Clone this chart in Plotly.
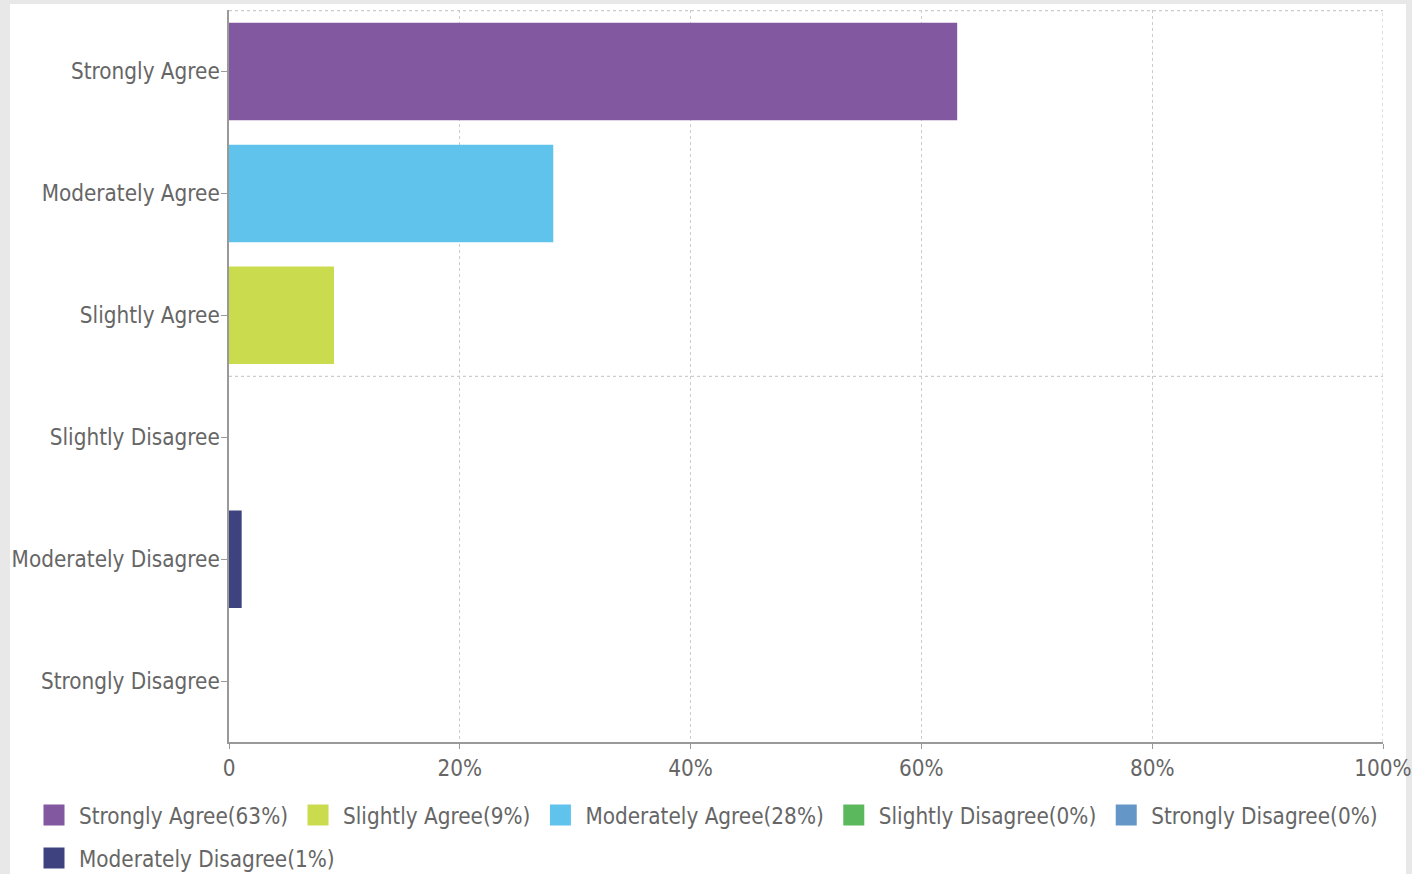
import plotly.graph_objects as go

categories = ["Strongly Agree", "Moderately Agree", "Slightly Agree",
              "Slightly Disagree", "Moderately Disagree", "Strongly Disagree"]
values = [63.1, 28.1, 9.1, 0.0, 1.1, 0.0]
legend_pct = [63, 28, 9, 0, 1, 0]
colors = ["#8259a0", "#5fc3ec", "#cbdb4e", "#5cb85c", "#3e4380", "#6496c8"]
legend_order = ["Strongly Agree", "Slightly Agree", "Moderately Agree",
                "Slightly Disagree", "Strongly Disagree", "Moderately Disagree"]
x_tickvals = [0, 20, 40, 60, 80, 100]
x_ticktext = ["0", "20%", "40%", "60%", "80%", "100%"]

FONT = "DejaVu Sans Condensed, Liberation Sans Narrow, sans-serif"
FS = 22.3
TXT = "#666666"

W, H = 1412, 874
ml, mr, mt, mb = 229, 29, 10, 132
pw, ph = W - ml - mr, H - mt - mb


def px2x(px):
    return (px - ml) / pw


def py2y(py):
    return (H - mb - py) / ph


fig = go.Figure()
for cat, v, c in zip(categories, values, colors):
    fig.add_trace(go.Bar(
        y=[cat], x=[v], orientation="h", width=0.8,
        name=cat, legendgroup=cat, showlegend=False,
        marker=dict(color=c, line=dict(width=0)),
    ))

# legend entries (square swatches), in the reference's legend order
for i, cat in enumerate(legend_order):
    k = categories.index(cat)
    fig.add_trace(go.Scatter(
        x=[None], y=[None], mode="markers",
        name=f"{cat}({legend_pct[k]}%)", legendgroup=cat,
        marker=dict(symbol="square", size=16, color=colors[k],
                    line=dict(width=5, color=colors[k])),
        legend="legend" if i < 5 else "legend2",
        hoverinfo="skip",
    ))

shapes = [
    dict(type="rect", xref="paper", yref="paper", layer="below",
         x0=px2x(10), x1=px2x(1406), y0=py2y(880), y1=py2y(4),
         fillcolor="white", line=dict(width=0)),
    dict(type="line", xref="x", yref="paper", x0=100, x1=100, y0=0, y1=1,
         layer="below", line=dict(color="#cccccc", width=1.2, dash="dot")),
]
for yv in [-0.5, 2.5]:
    shapes.append(dict(type="line", xref="paper", yref="y", x0=0, x1=1,
                       y0=yv, y1=yv, layer="below",
                       line=dict(color="#cccccc", width=1.2, dash="dot")))

legend_common = dict(orientation="h", xanchor="left", yanchor="middle",
                     font=dict(family=FONT, size=FS, color=TXT),
                     bgcolor="rgba(0,0,0,0)", itemwidth=40,
                     itemclick=False, itemdoubleclick=False)

fig.update_layout(
    width=W, height=H,
    margin=dict(l=ml, r=mr, t=mt, b=mb, autoexpand=False),
    paper_bgcolor="#e8e8e8", plot_bgcolor="rgba(0,0,0,0)",
    barmode="overlay",
    font=dict(family=FONT, size=FS, color=TXT),
    shapes=shapes,
    showlegend=True,
    legend=dict(x=px2x(29), y=py2y(815), **legend_common),
    legend2=dict(x=px2x(29), y=py2y(858), **legend_common),
    xaxis=dict(range=[0, 100], tickvals=x_tickvals, ticktext=x_ticktext,
               showgrid=True, gridcolor="#cccccc", griddash="dot", gridwidth=1.2,
               showline=True, linecolor="#999999", linewidth=1.5,
               ticks="outside", ticklen=5, tickcolor="#999999",
               ticklabeloverflow="allow", automargin=False,
               zeroline=False, fixedrange=True),
    yaxis=dict(categoryorder="array", categoryarray=categories,
               autorange="reversed", showgrid=False,
               showline=True, linecolor="#999999", linewidth=1.5,
               ticks="outside", ticklen=6, tickcolor="#999999",
               ticklabelstandoff=-3, automargin=False,
               zeroline=False, fixedrange=True),
)

fig.write_html(
    "out.html",
    config={"displayModeBar": False},
    post_script="document.body.style.margin='0';"
                "document.body.style.overflow='hidden';",
)
